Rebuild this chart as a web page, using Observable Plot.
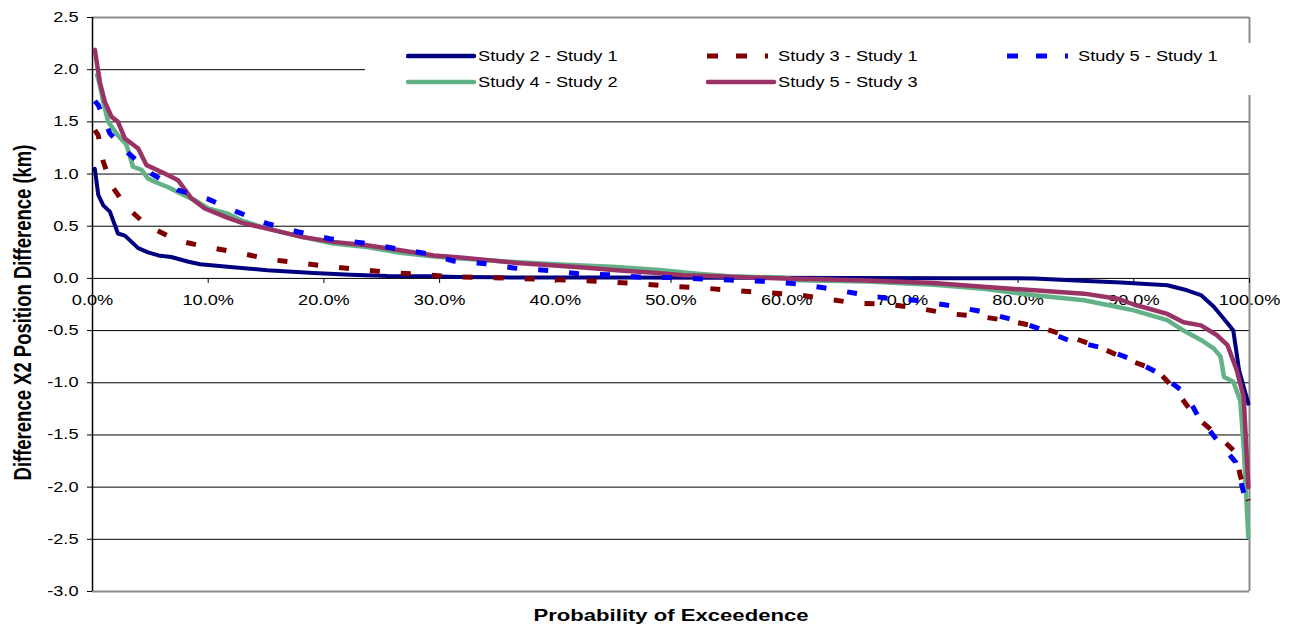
<!DOCTYPE html>
<html><head><meta charset="utf-8">
<script src="https://cdn.jsdelivr.net/npm/d3@7"></script>
<script src="https://cdn.jsdelivr.net/npm/@observablehq/plot@0.6"></script>
<style>
body{margin:0;background:#fff;font-family:"Liberation Sans",Arial,sans-serif;}
#wrap{position:relative;width:1290px;height:625px;overflow:hidden;}
#legend{position:absolute;left:365px;top:43px;width:888px;height:52px;background:#fff;}
.item{position:absolute;height:20px;width:300px;}
.item svg{position:absolute;left:0;top:0;}
.item span{position:absolute;top:0;white-space:nowrap;font-size:14px;line-height:20px;transform:scaleX(1.3);transform-origin:0 50%;color:#000;}
</style></head>
<body><div id="wrap"><div id="legend"></div></div>
<script>
// ---- data (x = probability of exceedence in %, y = difference in km) ----
const seriesNames = ["Study 2 - Study 1", "Study 3 - Study 1", "Study 5 - Study 1", "Study 4 - Study 2", "Study 5 - Study 3"];

const xS21 = [0.2, 0.5, 0.93, 1.5, 2.2, 2.8, 3.95, 4.8, 5.7, 6.8, 8.3, 9.3, 11.9, 15.1, 19.1, 22.3, 25.5, 29.5, 31.5, 35, 45, 55, 65, 75, 81.4, 85, 88.9, 92.9, 94.6, 95.8, 96.9, 98.1, 98.6, 99.1, 99.5, 99.9];
const yS21 = [1.05, 0.80, 0.70, 0.64, 0.43, 0.41, 0.29, 0.25, 0.22, 0.205, 0.16, 0.135, 0.11, 0.078, 0.052, 0.036, 0.023, 0.02, 0.014, 0.01, 0.008, 0.006, 0.004, 0.002, 0.0, -0.02, -0.04, -0.066, -0.114, -0.16, -0.27, -0.43, -0.50, -0.88, -1.04, -1.2];

const xS31 = [0.2, 0.5, 0.93, 1.64, 2.94, 4.67, 7.26, 9.9, 12.6, 15.4, 18, 20.7, 23.3, 26, 28.6, 31.4, 34, 36.6, 39.3, 42, 44.6, 47.3, 49.9, 52.7, 55.3, 58, 60.6, 63.3, 65.9, 68.7, 71.3, 74, 76.6, 79.3, 81.8, 84.5, 87, 89.6, 92, 93.7, 95.2, 97.1, 98.8, 99.2, 99.9];
const yS31 = [1.42, 1.37, 1.12, 0.89, 0.685, 0.51, 0.365, 0.30, 0.247, 0.18, 0.148, 0.11, 0.084, 0.055, 0.036, 0.014, 0.008, 0.0, -0.011, -0.018, -0.034, -0.05, -0.076, -0.092, -0.114, -0.136, -0.152, -0.194, -0.236, -0.248, -0.284, -0.338, -0.363, -0.408, -0.466, -0.56, -0.657, -0.785, -0.88, -1.08, -1.31, -1.49, -1.665, -1.89, -2.13];

const xS51 = [0.2, 0.5, 1.5, 3.1, 5.1, 7.4, 10, 12.5, 15.1, 17.8, 20.5, 23.4, 26.2, 28.9, 31.2, 33.8, 36.4, 39.1, 41.9, 44.5, 47.2, 49.9, 52.7, 55.4, 57.9, 60.6, 63.2, 65.8, 68.5, 71.1, 73.9, 76.5, 79.2, 81.8, 84.4, 87.1, 89.7, 92.2, 94.5, 95.5, 97.2, 98.8, 99.9];
const yS51 = [1.70, 1.66, 1.39, 1.20, 1.005, 0.845, 0.76, 0.637, 0.525, 0.445, 0.38, 0.34, 0.286, 0.238, 0.167, 0.142, 0.10, 0.078, 0.046, 0.036, 0.013, 0.008, -0.005, -0.018, -0.028, -0.05, -0.09, -0.14, -0.188, -0.21, -0.258, -0.31, -0.386, -0.48, -0.594, -0.66, -0.77, -0.91, -1.105, -1.31, -1.55, -1.76, -2.22];

const xS42 = [0.4, 0.64, 0.93, 1.36, 2.2, 2.94, 3.5, 4.24, 4.8, 5.4, 6.5, 7.7, 8.85, 10, 11.7, 13, 15.1, 18, 20.8, 23.7, 26.6, 29.5, 31.8, 36, 40, 45.3, 49, 52.3, 55, 59.7, 61, 66.9, 72.7, 77, 81.4, 85.7, 88.6, 90, 92.9, 94.3, 95.8, 96.9, 97.5, 97.8, 98.6, 99.2, 99.5, 99.9];
const yS42 = [1.95, 1.85, 1.69, 1.50, 1.37, 1.28, 1.07, 1.04, 0.957, 0.925, 0.876, 0.81, 0.75, 0.67, 0.62, 0.55, 0.477, 0.40, 0.334, 0.30, 0.245, 0.21, 0.19, 0.16, 0.135, 0.11, 0.08, 0.045, 0.02, 0.008, -0.018, -0.03, -0.06, -0.10, -0.162, -0.21, -0.274, -0.306, -0.40, -0.50, -0.59, -0.67, -0.75, -0.945, -0.99, -1.17, -1.62, -2.48];

const xS53 = [0.2, 0.64, 1.07, 1.64, 2.2, 2.8, 3.95, 4.67, 5.97, 7.4, 8.56, 9.7, 11.7, 13, 15.1, 18, 20.8, 23.7, 26.6, 29.5, 31.8, 33.8, 36.7, 39.6, 42.4, 45.3, 48.2, 51.1, 54, 56.9, 59.7, 63.8, 66.9, 72.7, 77, 81.4, 85.7, 88.6, 90, 92.9, 94.3, 95.8, 97.2, 98.1, 98.9, 99.5, 99.9];
const yS53 = [2.19, 1.88, 1.69, 1.55, 1.50, 1.34, 1.245, 1.085, 1.02, 0.94, 0.765, 0.67, 0.58, 0.53, 0.477, 0.40, 0.35, 0.317, 0.27, 0.22, 0.20, 0.18, 0.148, 0.126, 0.104, 0.078, 0.056, 0.03, 0.02, 0.008, 0.0, -0.01, -0.02, -0.044, -0.08, -0.114, -0.146, -0.194, -0.25, -0.34, -0.42, -0.45, -0.545, -0.64, -0.88, -1.14, -2.0];

const xTicks = [0, 10, 20, 30, 40, 50, 60, 70, 80, 90, 100];
const yTicks = [2.5, 2.0, 1.5, 1.0, 0.5, 0.0, -0.5, -1.0, -1.5, -2.0, -2.5, -3.0];

const xTitle = "Probability of Exceedence";
const yTitle = "Difference X2 Position Difference (km)";

// ---- styles ----
const colors = ["#000080", "#800000", "#0000FF", "#63B287", "#993366"];
const dashes = [null, "10,21", "10,21", null, null];
const widths = [4, 5, 5, 4.5, 4.5];

const pts = (xs, ys) => xs.map((x, i) => ({x, y: ys[i]}));
const data = [pts(xS21, yS21), pts(xS31, yS31), pts(xS51, yS51), pts(xS42, yS42), pts(xS53, yS53)];
const drawOrder = [0, 3, 4, 1, 2];

const lineMarks = drawOrder.map(i => Plot.line(data[i], {
  x: "x", y: "y", stroke: colors[i], strokeWidth: widths[i],
  strokeDasharray: dashes[i] ?? undefined, strokeLinecap: dashes[i] ? "butt" : "round",
  strokeLinejoin: "round"
}));

const chart = Plot.plot({
  width: 1290, height: 625,
  marginLeft: 92, marginRight: 41, marginTop: 17, marginBottom: 34,
  x: {domain: [0, 100], axis: null},
  y: {domain: [-3, 2.5], axis: null},
  style: {fontFamily: "'Liberation Sans', Arial, sans-serif", fontSize: "14px", color: "#000", background: "#fff", overflow: "visible"},
  marks: [
    Plot.ruleY(yTicks.filter(d => d > -3 && d < 2.5), {stroke: "#000", strokeWidth: 1}),
    Plot.ruleY([2.5, -3], {stroke: "#8c8c8c", strokeWidth: 2}),
    Plot.ruleX([100], {stroke: "#8c8c8c", strokeWidth: 2}),
    Plot.ruleX([0], {stroke: "#000", strokeWidth: 1.5}),
    Plot.axisY({ticks: yTicks, tickSize: 5, tickPadding: 9, tickFormat: d => d.toFixed(1), label: null, fontSize: 14, stroke: "#000"}),
    Plot.ruleX(xTicks, {x: d => d, y1: 0, y2: -0.048, stroke: "#000", strokeWidth: 1}),
    Plot.text(xTicks, {x: d => d, y: 0, text: d => d.toFixed(1) + "%", dy: 22, fontSize: 14, fill: "#000"}),
    ...lineMarks,
    Plot.text([xTitle], {frameAnchor: "bottom", text: d => d, dy: 29, fontSize: 17, fontWeight: "bold", fill: "#000"}),
    Plot.text([yTitle], {frameAnchor: "left", textAnchor: "middle", lineAnchor: "middle", text: d => d, rotate: -90, dx: -69.5, dy: 8, fontSize: 18.5, fontWeight: "bold", fill: "#000"})
  ]
});

// horizontal stretch of texts (reference text is rendered wide)
chart.querySelectorAll("text").forEach(t => {
  const tr = t.getAttribute("transform") || "";
  const x = +(t.getAttribute("x") || 0);
  t.setAttribute("x", 0);
  const s = tr.includes("rotate") ? "scale(1,1.3)" : "scale(1.3,1)";
  t.setAttribute("transform", `${tr} translate(${x},0) ${s}`);
});

const wrap = document.getElementById("wrap");
wrap.insertBefore(chart, wrap.firstChild);

// ---- legend (inside plot, white box) ----
const legend = document.getElementById("legend");
const legendPos = [
  {left: 41, top: 3}, {left: 341, top: 3}, {left: 641, top: 3},
  {left: 41, top: 29}, {left: 341, top: 29}
];
seriesNames.forEach((name, i) => {
  const it = document.createElement("div");
  it.className = "item";
  it.style.left = legendPos[i].left + "px";
  it.style.top = legendPos[i].top + "px";
  const dash = dashes[i] ? `stroke-dasharray="11,18"` : "";
  const cap = dashes[i] ? "butt" : "round";
  const sw = dashes[i] ? 5 : 4.5;
  it.innerHTML = `<svg width="72" height="20"><line x1="${dashes[i] ? 1 : 2}" x2="${dashes[i] ? 62 : 68}" y1="10" y2="10" stroke="${colors[i]}" stroke-width="${sw}" stroke-linecap="${cap}" ${dash}/></svg><span style="left:72px">${name}</span>`;
  legend.appendChild(it);
});
chart.style.position = "absolute";
chart.style.left = "0";
chart.style.top = "0";
</script>
</body></html>
